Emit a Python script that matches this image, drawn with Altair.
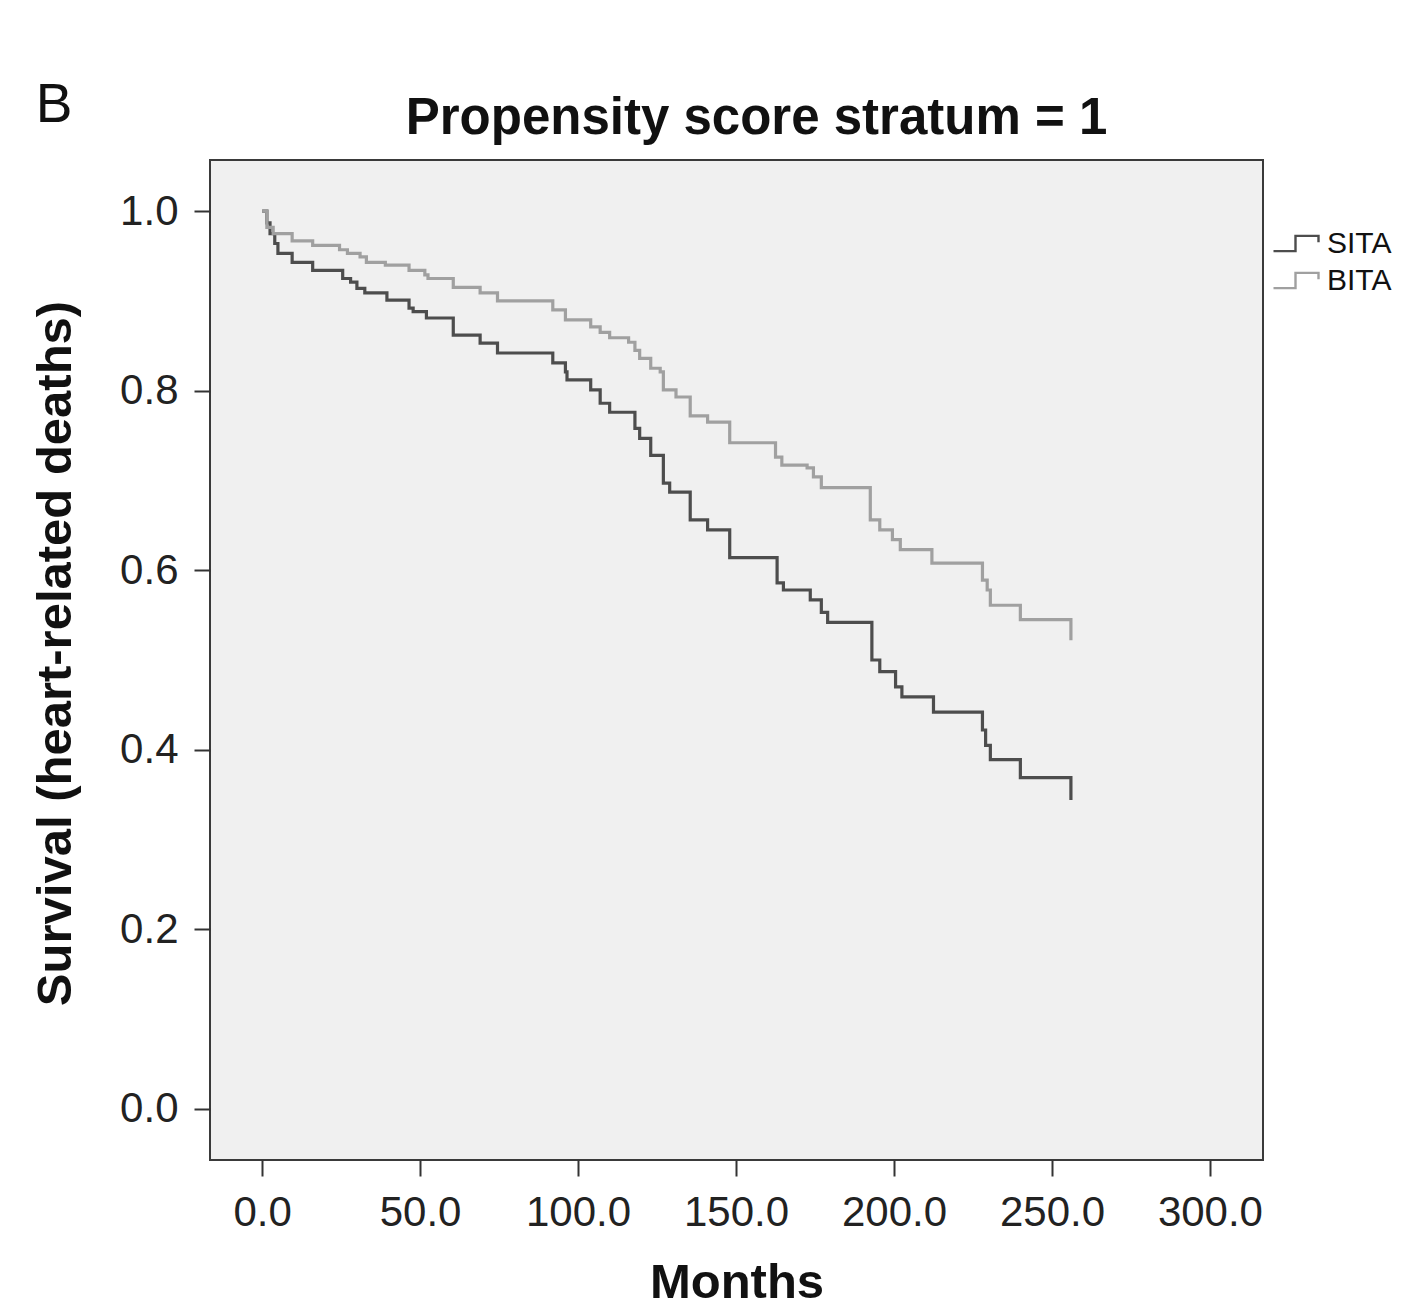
import altair as alt
import pandas as pd

# Kaplan-Meier step estimates (months, cumulative survival)
sita_months = [0, 1.5, 2.5, 4, 5, 9.5, 16, 25.5, 28, 30, 32.5, 39.5, 46.5, 47.8, 52,
               60.5, 69, 74.5, 92, 96, 96.5, 104, 107, 110, 118, 119.5, 123, 127, 129,
               135.5, 141, 148, 163, 165, 173.5, 177, 179, 193, 195.5, 200.5, 202.5,
               212.5, 228, 229, 230.5, 240, 256]
sita_surv = [1.0, 0.987, 0.975, 0.964, 0.953, 0.943, 0.934, 0.925, 0.921, 0.914, 0.909,
             0.901, 0.892, 0.888, 0.881, 0.862, 0.853, 0.842, 0.831, 0.821, 0.812, 0.801,
             0.786, 0.776, 0.758, 0.747, 0.728, 0.697, 0.687, 0.656, 0.645, 0.614, 0.586,
             0.578, 0.567, 0.553, 0.542, 0.500, 0.487, 0.470, 0.459, 0.442, 0.422, 0.405,
             0.389, 0.369, 0.344]

bita_months = [0, 1.5, 3.5, 9.5, 16, 24.5, 27, 31, 33, 39, 46.5, 51.5, 52.5, 60.5, 69,
               74.5, 92, 96, 104, 107, 110, 116, 118, 119.5, 123, 126, 127, 131, 135.5,
               141, 148, 162.5, 164.5, 172.5, 174.5, 177, 192.5, 195.5, 199.5, 202, 212,
               228, 229.5, 230.5, 240, 256]
bita_surv = [1.0, 0.982, 0.975, 0.967, 0.962, 0.957, 0.953, 0.949, 0.943, 0.940, 0.934,
             0.929, 0.925, 0.915, 0.909, 0.900, 0.890, 0.879, 0.871, 0.865, 0.859, 0.854,
             0.845, 0.836, 0.825, 0.821, 0.801, 0.793, 0.772, 0.765, 0.742, 0.726, 0.717,
             0.714, 0.704, 0.692, 0.656, 0.645, 0.634, 0.623, 0.608, 0.589, 0.578, 0.561,
             0.545, 0.522]

groups = ["SITA", "BITA"]
group_colors = ["#4d4d4d", "#a0a0a0"]
x_ticks = [0, 50, 100, 150, 200, 250, 300]
y_ticks = [0.0, 0.2, 0.4, 0.6, 0.8, 1.0]

df = pd.concat([
    pd.DataFrame({"Months": sita_months, "Survival": sita_surv, "Group": "SITA", "ord": 1}),
    pd.DataFrame({"Months": bita_months, "Survival": bita_surv, "Group": "BITA", "ord": 0}),
])

FONT = "Liberation Sans"

# custom step-shaped legend glyph
step_path = "M-1.3,0.38H-0.2V-0.38H0.95V-0.06"

lines = alt.Chart(df).mark_line(interpolate="step-after", strokeWidth=3.2).encode(
    x=alt.X("Months:Q",
            scale=alt.Scale(domain=[-16.5, 316.8], nice=False, zero=False),
            axis=alt.Axis(values=x_ticks, format=".1f", title="Months")),
    y=alt.Y("Survival:Q",
            scale=alt.Scale(domain=[-0.057, 1.057], nice=False, zero=False),
            axis=alt.Axis(values=y_ticks, format=".1f", titleY=493,
                          title="Survival (heart-related deaths)")),
    color=alt.Color("Group:N",
                    scale=alt.Scale(domain=groups, range=group_colors),
                    legend=alt.Legend(title=None, orient="none", legendX=1068, legendY=62,
                                      symbolType=step_path, symbolSize=1600,
                                      symbolStrokeWidth=2.4, symbolFillColor="transparent",
                                      labelFont=FONT, labelFontSize=30, labelColor="#111",
                                      labelOffset=6, rowPadding=0)),
    order=alt.Order("ord:Q"),
)

panel_label = alt.Chart(pd.DataFrame({"t": ["B"]})).mark_text(
    font=FONT, fontSize=55, color="#111", align="center", baseline="middle"
).encode(text="t:N", x=alt.value(-156), y=alt.value(-55))

chart = alt.layer(lines, panel_label).properties(
    width=1053,
    height=1000,
    background="white",
    autosize=alt.AutoSizeParams(type="none"),
    padding={"left": 210, "top": 160, "right": 142, "bottom": 146},
    title=alt.TitleParams("Propensity score stratum = 1", font=FONT, fontSize=51,
                          fontWeight="bold", color="#111", offset=-67, dx=20),
).configure_view(
    fill="#f0f0f0", stroke="#3a3a3a", strokeWidth=2
).configure_axis(
    grid=False, domain=False, ticks=True, tickSize=16, tickWidth=2, tickColor="#333",
    labelFont=FONT, labelFontSize=42, labelColor="#222", labelPadding=16,
    titleFont=FONT, titleFontSize=49, titleFontWeight="bold", titleColor="#111",
).configure_axisY(
    titlePadding=39
).configure_axisX(
    titlePadding=25
)

chart.save("out.html", embed_options={"renderer": "svg", "actions": False})
